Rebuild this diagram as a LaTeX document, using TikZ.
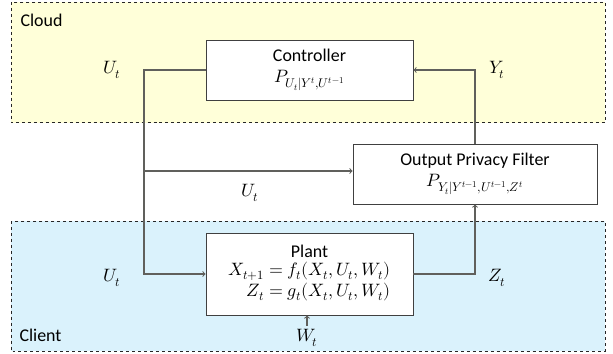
\documentclass[tikz,border=0pt]{standalone}
\usepackage{amsmath}
\usepackage{fontspec}
\usepackage{unicode-math}
\setmainfont{Carlito}
\setmathfont{Latin Modern Math}
\usepackage{tikz}
\usetikzlibrary{arrows,positioning}
\definecolor{cloudyellow}{RGB}{255,255,217}
\definecolor{clientblue}{RGB}{218,242,252}
\definecolor{wire}{RGB}{96,96,92}

\begin{document}
\begin{tikzpicture}[font=\fontsize{18}{22}\selectfont,
  zone/.style={draw=black!85,dashed,line width=0.7pt},
  block/.style={draw=black!75,fill=white,line width=0.9pt,align=center,inner sep=1pt},
  wire/.style={draw=wire,line width=1.1pt},
  arr/.style={wire,->,>=to}]
\useasboundingbox (0bp,0bp) rectangle (613bp,-354bp);

% regions
\draw [zone,fill=cloudyellow] (11bp,-2bp) rectangle (605bp,-122.5bp);
\draw [zone,fill=clientblue] (11bp,-221bp) rectangle (605bp,-351bp);
\node (cloud) at (17bp,-20bp)[anchor=west] {Cloud};
\node (client) at (16bp,-335bp)[anchor=west] {Client};

% blocks
\node (ctrl) at (309.5bp,-70bp)[block,minimum width=207bp,minimum height=60bp] {Controller\\[-1pt] $P_{U_t|Y^t,U^{t-1}}$};
\node (filt) at (475bp,-174bp)[block,minimum width=244bp,minimum height=60bp] {Output Privacy Filter\\[-1pt] $P_{Y_t|Y^{t-1},U^{t-1},Z^t}$};
\node (plant) at (309.5bp,-274bp)[block,minimum width=207bp,minimum height=82bp] {Plant\\[1pt] $\begin{aligned} X_{t+1} &= f_t(X_t,U_t,W_t)\\[-4pt] Z_t &= g_t(X_t,U_t,W_t)\end{aligned}$};

% labels
\node (u1) at (112bp,-70bp) {$U_t$};
\node (u2) at (250bp,-193bp) {$U_t$};
\node (u3) at (112bp,-278bp) {$U_t$};
\node (y) at (497bp,-70bp) {$Y_t$};
\node (z) at (497bp,-278bp) {$Z_t$};
\node (w) at (307bp,-338bp) {$W_t$};

% connectors
\coordinate (uL) at (144bp,-70bp);
\coordinate (uM) at (144bp,-171bp);
\draw [arr] (ctrl.west) -- (uL) |- (plant.west);
\draw [arr] (uM) -- (uM -| filt.west);
\draw [arr] (filt.north) |- (ctrl.east);
\draw [arr] (plant.east) -| (filt.south);
\draw [arr] (w.north) -- (w.north |- plant.south);
\end{tikzpicture}
\end{document}
